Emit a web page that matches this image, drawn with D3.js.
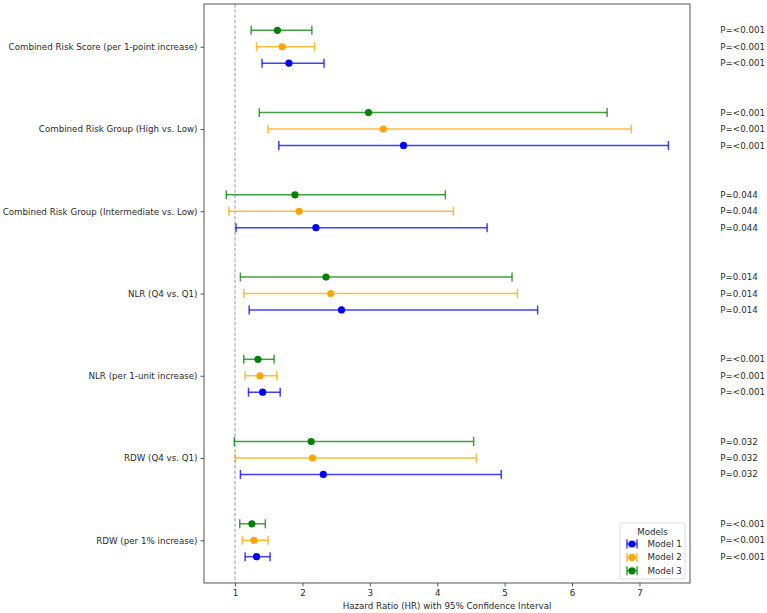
<!DOCTYPE html>
<html>
<head>
<meta charset="utf-8">
<script src="https://cdn.jsdelivr.net/npm/d3@7"></script>
<style>
  body { margin: 0; background: #fff; }
  svg text { font-family: "DejaVu Sans", sans-serif; fill: #2a2a2a; }
</style>
</head>
<body>
<div id="vis"></div>
<script>
const FRAME_WIDTH = 767;
const FRAME_HEIGHT = 613;
const MARGINS = {left: 204, right: 77, top: 4, bottom: 30};
const VIS_WIDTH = FRAME_WIDTH - MARGINS.left - MARGINS.right;
const VIS_HEIGHT = FRAME_HEIGHT - MARGINS.top - MARGINS.bottom;
const FONT = "8.7px";

// categories, top to bottom
const CATEGORIES = [
  "Combined Risk Score (per 1-point increase)",
  "Combined Risk Group (High vs. Low)",
  "Combined Risk Group (Intermediate vs. Low)",
  "NLR (Q4 vs. Q1)",
  "NLR (per 1-unit increase)",
  "RDW (Q4 vs. Q1)",
  "RDW (per 1% increase)"
];
const MODELS = ["Model 1", "Model 2", "Model 3"];
const COLORS = ["blue", "orange", "green"];

// hazard ratios and 95% CI per model
const HR_M1 = [1.80, 3.50, 2.20, 2.58, 1.41, 2.31, 1.32];
const LO_M1 = [1.40, 1.65, 1.015, 1.21, 1.20, 1.08, 1.15];
const HI_M1 = [2.32, 7.43, 4.74, 5.49, 1.67, 4.95, 1.52];

const HR_M2 = [1.70, 3.20, 1.95, 2.42, 1.37, 2.15, 1.28];
const LO_M2 = [1.32, 1.49, 0.91, 1.13, 1.15, 1.005, 1.11];
const HI_M2 = [2.18, 6.88, 4.24, 5.19, 1.62, 4.58, 1.49];

const HR_M3 = [1.63, 2.98, 1.89, 2.35, 1.34, 2.13, 1.25];
const LO_M3 = [1.24, 1.36, 0.87, 1.08, 1.13, 0.99, 1.07];
const HI_M3 = [2.14, 6.52, 4.12, 5.11, 1.58, 4.54, 1.45];

const P_VALUES = ["<0.001", "<0.001", "0.044", "0.014", "<0.001", "0.032", "<0.001"];
const X_TICKS = [1, 2, 3, 4, 5, 6, 7];

const HR = [HR_M1, HR_M2, HR_M3];
const LO = [LO_M1, LO_M2, LO_M3];
const HI = [HI_M1, HI_M2, HI_M3];
const OFFSETS = [-0.2, 0, 0.2];

const FRAME = d3.select("#vis")
                .append("svg")
                  .attr("width", FRAME_WIDTH)
                  .attr("height", FRAME_HEIGHT);

const X_SCALE = d3.scaleLinear()
                  .domain([0.54, 7.75])
                  .range([0, VIS_WIDTH]);

// y position = n-1-index, like matplotlib yticks
const Y_SCALE = d3.scaleLinear()
                  .domain([-0.52, 6.52])
                  .range([VIS_HEIGHT, 0]);

const N = CATEGORIES.length;
const G = FRAME.append("g")
               .attr("transform", "translate(" + MARGINS.left + "," + MARGINS.top + ")");

// reference line at HR = 1
G.append("line")
  .attr("x1", X_SCALE(1)).attr("x2", X_SCALE(1))
  .attr("y1", 0).attr("y2", VIS_HEIGHT)
  .attr("stroke", "#999")
  .attr("stroke-width", 1)
  .attr("stroke-dasharray", "3.5,1.8");

// build rows
const rows = [];
MODELS.forEach((m, j) => {
  CATEGORIES.forEach((c, i) => {
    rows.push({model: j, y: (N - 1 - i) + OFFSETS[j], hr: HR[j][i], lo: LO[j][i], hi: HI[j][i], p: P_VALUES[i]});
  });
});

const bars = G.selectAll(".bar")
  .data(rows)
  .enter()
  .append("g")
    .attr("class", "bar")
    .attr("stroke", (d) => COLORS[d.model])
    .attr("stroke-opacity", 0.75)
    .attr("stroke-width", 1.5);

bars.append("line")
  .attr("x1", (d) => X_SCALE(d.lo))
  .attr("x2", (d) => X_SCALE(d.hi))
  .attr("y1", (d) => Y_SCALE(d.y))
  .attr("y2", (d) => Y_SCALE(d.y));

bars.append("line")
  .attr("x1", (d) => X_SCALE(d.lo))
  .attr("x2", (d) => X_SCALE(d.lo))
  .attr("y1", (d) => Y_SCALE(d.y) - 4.5)
  .attr("y2", (d) => Y_SCALE(d.y) + 4.5);

bars.append("line")
  .attr("x1", (d) => X_SCALE(d.hi))
  .attr("x2", (d) => X_SCALE(d.hi))
  .attr("y1", (d) => Y_SCALE(d.y) - 4.5)
  .attr("y2", (d) => Y_SCALE(d.y) + 4.5);

G.selectAll(".pt")
  .data(rows)
  .enter()
  .append("circle")
    .attr("class", "pt")
    .attr("cx", (d) => X_SCALE(d.hr))
    .attr("cy", (d) => Y_SCALE(d.y))
    .attr("r", 3.6)
    .attr("fill", (d) => COLORS[d.model]);

// p-value labels beside the plot
G.selectAll(".pval")
  .data(rows)
  .enter()
  .append("text")
    .attr("class", "pval")
    .attr("x", X_SCALE(8.2))
    .attr("y", (d) => Y_SCALE(d.y))
    .attr("dy", "0.35em")
    .attr("font-size", FONT)
    .text((d) => "P=" + d.p);

// frame
G.append("rect")
  .attr("width", VIS_WIDTH)
  .attr("height", VIS_HEIGHT)
  .attr("fill", "none")
  .attr("stroke", "#555")
  .attr("stroke-width", 1);

// x axis
const xAxis = G.append("g")
  .attr("transform", "translate(0," + VIS_HEIGHT + ")")
  .call(d3.axisBottom(X_SCALE).tickValues(X_TICKS).tickFormat(d3.format("d")).tickSize(3.5).tickPadding(3));
xAxis.select(".domain").remove();
xAxis.selectAll("line").attr("stroke", "#555");
xAxis.selectAll("text").attr("font-size", FONT).attr("fill", "#2a2a2a");

// y axis
const yAxis = G.append("g")
  .call(d3.axisLeft(Y_SCALE)
          .tickValues(d3.range(N))
          .tickFormat((d) => CATEGORIES[N - 1 - d])
          .tickSize(3.5).tickPadding(3));
yAxis.select(".domain").remove();
yAxis.selectAll("line").attr("stroke", "#555");
yAxis.selectAll("text").attr("font-size", FONT).attr("fill", "#2a2a2a");

// x label
G.append("text")
  .attr("x", VIS_WIDTH / 2)
  .attr("y", VIS_HEIGHT + 26)
  .attr("text-anchor", "middle")
  .attr("font-size", FONT)
  .text("Hazard Ratio (HR) with 95% Confidence Interval");

// legend
const LEG = G.append("g")
  .attr("transform", "translate(" + (VIS_WIDTH - 70) + "," + (VIS_HEIGHT - 60) + ")");
LEG.append("rect")
  .attr("width", 65).attr("height", 56)
  .attr("rx", 2)
  .attr("fill", "#fff").attr("fill-opacity", 0.8)
  .attr("stroke", "#ddd");
LEG.append("text")
  .attr("x", 32.5).attr("y", 8.5)
  .attr("dy", "0.35em")
  .attr("text-anchor", "middle")
  .attr("font-size", FONT)
  .text("Models");
MODELS.forEach((m, j) => {
  const ly = 21 + j * 13.4;
  const g = LEG.append("g")
    .attr("stroke", COLORS[j]).attr("stroke-opacity", 0.75).attr("stroke-width", 1.5);
  g.append("line").attr("x1", 7).attr("x2", 17).attr("y1", ly).attr("y2", ly);
  g.append("line").attr("x1", 7).attr("x2", 7).attr("y1", ly - 4.5).attr("y2", ly + 4.5);
  g.append("line").attr("x1", 17).attr("x2", 17).attr("y1", ly - 4.5).attr("y2", ly + 4.5);
  LEG.append("circle").attr("cx", 12).attr("cy", ly).attr("r", 3.6).attr("fill", COLORS[j]);
  LEG.append("text")
    .attr("x", 27.5).attr("y", ly)
    .attr("dy", "0.35em")
    .attr("font-size", FONT)
    .text(m);
});
</script>
</body>
</html>
